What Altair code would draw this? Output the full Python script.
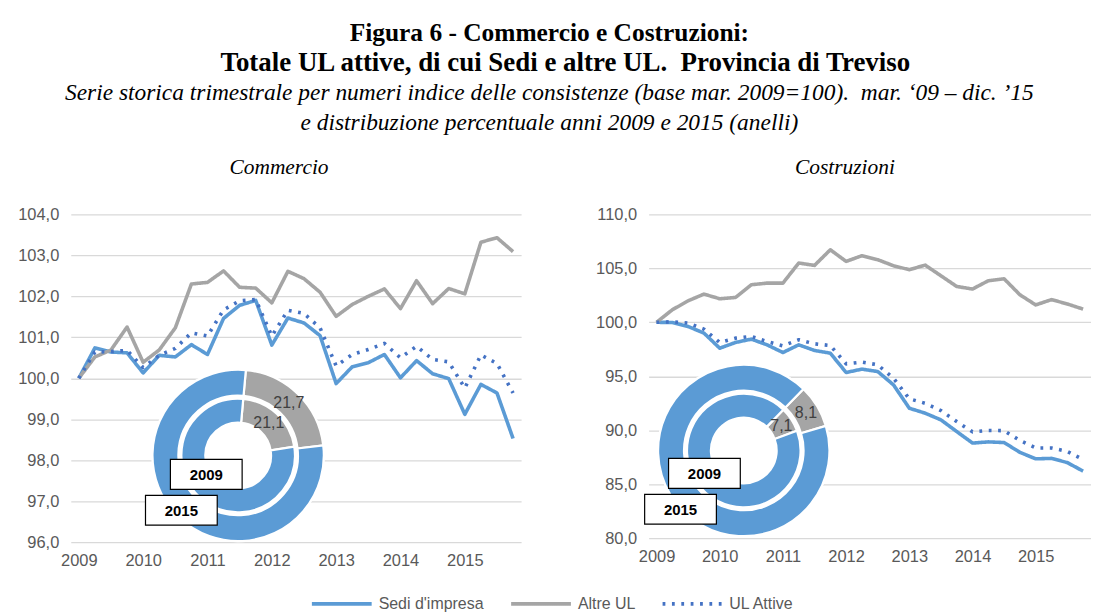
import math
import altair as alt
import pandas as pd

# ---------------- data ----------------
trimestri = list(range(28))  # mar 2009 ... dic 2015
serie = ["Sedi d'impresa", "Altre UL", "UL Attive"]

comm_sedi = [100.0, 100.74, 100.64, 100.62, 100.13, 100.56, 100.52, 100.82, 100.58, 101.46,
             101.78, 101.90, 100.81, 101.47, 101.35, 101.04, 99.87, 100.28, 100.38, 100.58,
             100.01, 100.43, 100.11, 99.99, 99.12, 99.85, 99.64, 98.53]
comm_altre = [100.0, 100.52, 100.69, 101.25, 100.39, 100.69, 101.23, 102.30, 102.34, 102.62,
              102.22, 102.20, 101.84, 102.61, 102.43, 102.10, 101.51, 101.80, 102.00, 102.18,
              101.70, 102.38, 101.82, 102.19, 102.06, 103.32, 103.43, 103.09]
comm_attive = [100.0, 100.64, 100.65, 100.68, 100.26, 100.56, 100.73, 101.11, 101.03, 101.67,
               101.89, 101.92, 101.03, 101.66, 101.58, 101.23, 100.30, 100.58, 100.70, 100.85,
               100.50, 100.78, 100.46, 100.40, 99.76, 100.57, 100.36, 99.64]

costr_sedi = [100.0, 99.98, 99.61, 99.00, 97.60, 98.13, 98.44, 97.91, 97.20, 97.91,
              97.39, 97.14, 95.35, 95.66, 95.44, 94.20, 92.04, 91.58, 90.96, 89.88,
              88.81, 88.92, 88.86, 87.95, 87.35, 87.39, 87.00, 86.21]
costr_altre = [100.0, 101.16, 101.99, 102.61, 102.18, 102.30, 103.48, 103.63, 103.63, 105.49,
               105.27, 106.72, 105.64, 106.17, 105.80, 105.24, 104.87, 105.30, 104.31, 103.32,
               103.08, 103.85, 104.03, 102.55, 101.61, 102.10, 101.70, 101.22]
costr_attive = [100.0, 100.05, 99.92, 99.37, 98.13, 98.53, 98.69, 98.22, 97.82, 98.38,
                98.01, 97.85, 96.15, 96.31, 96.06, 94.82, 92.91, 92.50, 91.82, 90.80,
                89.85, 89.98, 89.96, 89.05, 88.36, 88.36, 88.03, 87.29]

anelli_anno = ["2009", "2009", "2015", "2015"]
anelli_tipo = ["Altre UL", "Sedi d'impresa", "Altre UL", "Sedi d'impresa"]
comm_quote = [21.1, 78.9, 21.7, 78.3]
costr_quote = [7.1, 92.9, 8.1, 91.9]

anni_riquadri = ["2009", "2015"]

# ---------------- style ----------------
BLU = "#5B9BD5"
GRIGIO = "#A5A5A5"
BLU_PUNTI = "#4472C4"
SANS = "Liberation Sans"
SERIF = "Liberation Serif"
COLORI_SERIE = [BLU, GRIGIO, BLU_PUNTI]
TRATTI = [[1, 0], [1, 0], [2.8, 6.6]]


def linee_df(sedi, altre, attive):
    rows = []
    for nome, vals in zip(serie, [sedi, altre, attive]):
        for q, v in zip(trimestri, vals):
            rows.append({"q": q, "serie": nome, "valore": v})
    return pd.DataFrame(rows)


legenda = alt.Legend(
    orient="none", legendX=240, legendY=359, direction="horizontal", title=None,
    symbolType="stroke", symbolSize=3600, symbolStrokeWidth=3.8,
    labelFont=SANS, labelFontSize=16, labelColor="#595959",
    columnPadding=19, labelOffset=5,
)


def pannello(titolo, sedi, altre, attive, quote, ydom, yvals, w, h,
             cx, cy, rot, box09, box15, tdx):
    df = linee_df(sedi, altre, attive)
    linee = alt.Chart(df).mark_line(strokeWidth=3.6, strokeCap="butt", strokeJoin="round").encode(
        x=alt.X("q:Q", title=None,
                scale=alt.Scale(domain=[-0.5, 27.5], nice=False, zero=False),
                axis=alt.Axis(values=[0, 4, 8, 12, 16, 20, 24], grid=False, labelPadding=10,
                              labelExpr="format(2009 + datum.value / 4, 'd')")),
        y=alt.Y("valore:Q", title=None,
                scale=alt.Scale(domain=ydom, nice=False, zero=False),
                axis=alt.Axis(values=yvals, grid=True, labelPadding=12,
                              labelExpr="replace(format(datum.value, '.1f'), '.', ',')")),
        color=alt.Color("serie:N", scale=alt.Scale(domain=serie, range=COLORI_SERIE),
                        legend=legenda),
        strokeDash=alt.StrokeDash("serie:N", scale=alt.Scale(domain=serie, range=TRATTI),
                                  legend=legenda),
    )

    ddf = pd.DataFrame({"anno": anelli_anno, "tipo": anelli_tipo, "quota": quote})
    base = alt.Chart(ddf)
    theta_scale = alt.Scale(domain=[0, 100], range=[rot, rot + 2 * math.pi])
    pos = dict(x=alt.value(cx), y=alt.value(cy))

    disco = base.transform_aggregate(n="count()").mark_arc(
        theta=0, theta2=2 * math.pi, radius=87, fill="white").encode(**pos)

    def anello(anno, r_out, r_in):
        return base.transform_filter(alt.datum.anno == anno).mark_arc(
            radius=r_out, radius2=r_in, stroke="white", strokeWidth=2.2).encode(
            theta=alt.Theta("quota:Q", stack=True, scale=theta_scale),
            order=alt.Order("tipo:N", sort="ascending"),
            fill=alt.Fill("tipo:N", scale=alt.Scale(domain=["Altre UL", "Sedi d'impresa"],
                                                    range=[GRIGIO, BLU]), legend=None),
            **pos)

    def etichetta(anno, r):
        return base.transform_filter(alt.datum.anno == anno).transform_filter(
            alt.datum.tipo == "Altre UL").transform_calculate(
            lbl="replace(format(datum.quota, '.1f'), '.', ',')").mark_text(
            radius=r, font=SANS, fontSize=16, color="#404040").encode(
            theta=alt.Theta("quota:Q", stack=True, scale=theta_scale),
            text="lbl:N", **pos)

    def riquadro(anno, x0, y0, bw=72, bh=30):
        bdf = alt.Chart(pd.DataFrame({"anno": anni_riquadri})).transform_filter(alt.datum.anno == anno)
        rect = bdf.mark_rect(fill="white", stroke="black", strokeWidth=1.2).encode(
            x=alt.value(x0), x2=alt.value(x0 + bw), y=alt.value(y0), y2=alt.value(y0 + bh))
        txt = bdf.mark_text(font=SANS, fontWeight="bold", fontSize=15, color="black").encode(
            text="anno:N", x=alt.value(x0 + bw / 2), y=alt.value(y0 + bh / 2 + 1))
        return [rect, txt]

    layers = [linee, disco, anello("2015", 86, 60), anello("2009", 57, 33),
              etichetta("2015", 73), etichetta("2009", 45)]
    layers += riquadro("2009", *box09)
    layers += riquadro("2015", *box15)
    return alt.layer(*layers).properties(
        width=w, height=h,
        title=alt.TitleParams(titolo, font=SERIF, fontSize=21.5, fontStyle="italic",
                              fontWeight="normal", color="black", anchor="middle",
                              frame="group", dx=tdx, offset=28),
    )


sinistra = pannello("Commercio", comm_sedi, comm_altre, comm_attive, comm_quote,
                    [96, 104], list(range(96, 105)), 452, 329,
                    168, 242, 0.09, (100, 246), (75, 282), -17)
destra = pannello("Costruzioni", costr_sedi, costr_altre, costr_attive, costr_quote,
                  [80, 110], list(range(80, 111, 5)), 444, 325,
                  95.5, 237, 0.77, (20, 245), (-4, 281), -25)

interno = alt.hconcat(sinistra, destra, spacing=74).properties(
    title=alt.TitleParams(
        text=["Serie storica trimestrale per numeri indice delle consistenze (base mar. 2009=100).\u00a0 mar. \u201809 \u2013 dic. \u201915",
              "e distribuzione percentuale anni 2009 e 2015 (anelli)"],
        font=SERIF, fontSize=23.5, fontStyle="italic", fontWeight="normal", color="black",
        lineHeight=30, anchor="middle", offset=23, dx=-5,
    )
)

medio = alt.vconcat(interno).properties(
    title=alt.TitleParams(
        "Totale UL attive, di cui Sedi e altre UL.\u00a0 Provincia di Treviso",
        font=SERIF, fontSize=27, fontWeight="bold", color="black",
        anchor="middle", offset=4, dx=11,
    )
)

chart = alt.vconcat(medio).resolve_scale(
    x="independent", y="independent", theta="independent"
).properties(
    padding={"left": 9, "top": 12, "right": 0, "bottom": 0},
    title=alt.TitleParams(
        "Figura 6 - Commercio e Costruzioni:",
        font=SERIF, fontSize=25.5, fontWeight="bold", color="black",
        anchor="middle", offset=2, dx=-5,
    ),
).configure_axis(
    domain=False, ticks=False, labelFont=SANS, labelFontSize=16.5, labelColor="#595959",
    gridColor="#D9D9D9", gridWidth=1.3,
).configure_view(stroke=None)

chart.save("out.html", embed_options={"renderer": "svg", "actions": False})
